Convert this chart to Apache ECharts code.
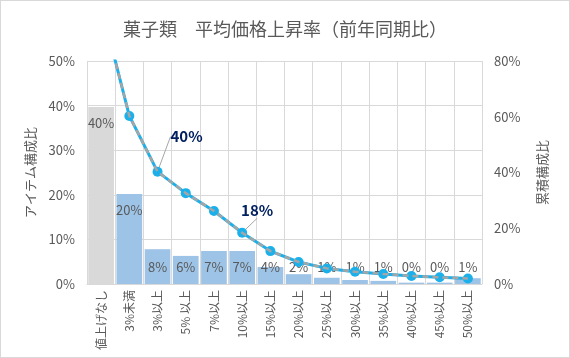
<!DOCTYPE html>
<html><head><meta charset="utf-8">
<script src="https://cdn.jsdelivr.net/npm/echarts@6/dist/echarts.min.js"></script>
<style>
html,body{margin:0;padding:0;background:#fff;}
#c{width:568px;height:356px;border:1px solid #d9d9d9;}
</style></head>
<body><div id="c"></div>
<script>
const categories = ['値上げなし','3%未満','3%以上','5% 以上','7%以上','10%以上','15%以上','20%以上','25%以上','30%以上','35%以上','40%以上','45%以上','50%以上'];
const itemShare = [39.7, 20.2, 7.8, 6.3, 7.4, 7.4, 3.8, 2.2, 1.4, 0.9, 0.7, 0.3, 0.3, 1.3];
const cumulative = [100, 60.3, 40.3, 32.6, 26.2, 18.4, 11.8, 7.9, 5.6, 4.4, 3.6, 2.9, 2.4, 2.0];
const leftTicks = [0, 10, 20, 30, 40, 50];
const rightTicks = [0, 20, 40, 60, 80];
const highlighted = [2, 5];

const font = 'Noto Sans CJK JP';
const grayText = '#595959';
const chart = echarts.init(document.getElementById('c'));
chart.setOption({
  animation: false,
  textStyle: {fontFamily: font},
  title: {
    text: '菓子類　平均価格上昇率（前年同期比）',
    left: 'center', top: 14,
    textStyle: {fontFamily: font, fontSize: 18, fontWeight: 'normal', color: grayText}
  },
  grid: {left: 86, right: 87, top: 60, bottom: 73},
  xAxis: {
    type: 'category', data: categories,
    axisLine: {lineStyle: {color: '#d9d9d9'}},
    axisTick: {show: false},
    splitLine: {show: true, lineStyle: {color: '#d9d9d9'}},
    axisLabel: {rotate: 90, color: grayText, fontSize: 12, margin: 6, interval: 0, fontFamily: font}
  },
  yAxis: [{
    type: 'value', min: leftTicks[0], max: leftTicks[leftTicks.length-1], interval: 10,
    name: 'アイテム構成比', nameLocation: 'middle', nameRotate: 90, nameGap: 50,
    nameTextStyle: {color: grayText, fontSize: 13, fontFamily: font},
    axisLine: {show: false}, axisTick: {show: false},
    splitLine: {lineStyle: {color: '#d9d9d9'}},
    axisLabel: {formatter: v => v + '%', color: grayText, fontSize: 13, margin: 12}
  }, {
    type: 'value', min: rightTicks[0], max: rightTicks[rightTicks.length-1], interval: 20,
    name: '累積構成比', nameLocation: 'middle', nameRotate: 90, nameGap: 54,
    nameTextStyle: {color: grayText, fontSize: 13, fontFamily: font},
    axisLine: {show: false}, axisTick: {show: false},
    splitLine: {show: false},
    axisLabel: {formatter: v => v + '%', color: grayText, fontSize: 13, margin: 12}
  }],
  series: [{
    type: 'bar', yAxisIndex: 0, barWidth: '91%',
    data: itemShare.map((v, i) => ({
      value: v,
      itemStyle: {color: i === 0 ? '#d9d9d9' : '#9dc3e6'},
      label: v > 10 ? {position: 'insideTop', distance: 10} : {position: 'insideBottom', distance: 10}
    })),
    label: {show: true, color: grayText, fontSize: 13, formatter: p => Math.round(p.value) + '%'}
  }, {
    type: 'line', yAxisIndex: 1, z: 3,
    data: cumulative.map((v, i) => ({value: v, label: {show: highlighted.includes(i)}})),
    lineStyle: {color: '#1cb0ea', width: 3},
    itemStyle: {color: '#1cb0ea'},
    symbol: 'circle', symbolSize: 10,
    label: {show: false, position: 'inside', color: '#002060', fontWeight: 'bold', fontSize: 15,
            formatter: p => Math.round(p.value) + '%'},
    labelLine: {show: true, lineStyle: {color: '#a6a6a6', width: 1}},
    labelLayout: p => p.dataIndex === 2 ? {dx: 29, dy: -35} : (p.dataIndex === 5 ? {dx: 15, dy: -22} : {})
  }, {
    type: 'line', yAxisIndex: 1, z: 4,
    data: cumulative,
    lineStyle: {color: '#a6a6a6', width: 2.5, type: [6, 4]},
    symbol: 'none', silent: true
  }]
});
</script></body></html>
